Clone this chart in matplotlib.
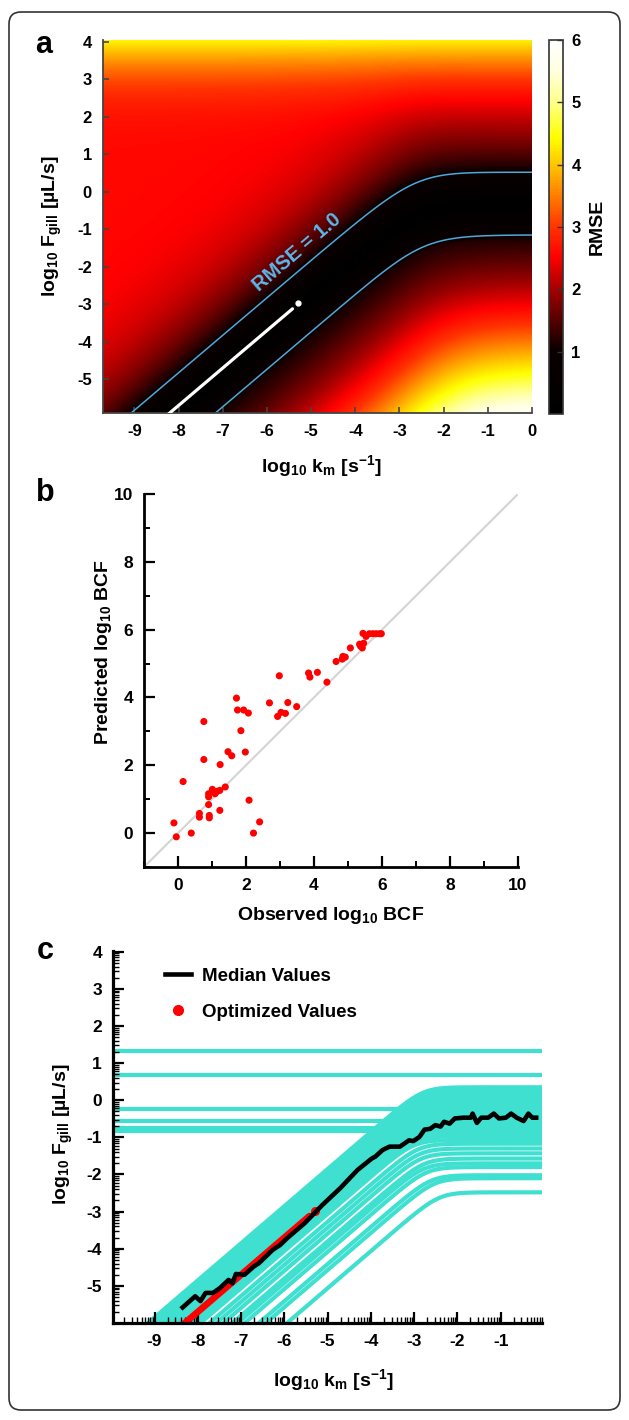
import numpy as np
import matplotlib
matplotlib.use('Agg')
import matplotlib.pyplot as plt
from matplotlib.colors import LinearSegmentedColormap
from matplotlib.patches import FancyBboxPatch
from matplotlib.transforms import IdentityTransform
from matplotlib.lines import Line2D

plt.rcParams['font.family'] = ['Liberation Sans', 'DejaVu Sans']
plt.rcParams['font.weight'] = 'bold'
plt.rcParams['mathtext.fontset'] = 'custom'
plt.rcParams['mathtext.rm'] = 'Liberation Sans:bold'
plt.rcParams['mathtext.it'] = 'Liberation Sans:bold'
plt.rcParams['mathtext.bf'] = 'Liberation Sans:bold'
plt.rcParams['axes.unicode_minus'] = False

# ---- panel a: RMSE surface (valley) ----
valley_offset = 2.2      # log F = log km + offset on the diagonal
valley_plateau = -0.33   # log F where the valley levels off
rmse_ticks = [1, 2, 3, 4, 5, 6]

# optimized (log km, log F) pairs, shown in panels a and c
opt_km = [-8.40, -8.25, -8.10, -7.95, -7.80, -7.65, -7.50, -7.35, -7.20, -7.05, -6.90,
          -6.75, -6.60, -6.45, -6.30, -6.15, -6.00, -5.85, -5.70, -5.55, -5.42, -5.30]
opt_f = [-6.10, -5.95, -5.80, -5.65, -5.50, -5.35, -5.20, -5.05, -4.90, -4.75, -4.60,
         -4.45, -4.30, -4.15, -4.00, -3.85, -3.70, -3.55, -3.40, -3.25, -3.12, -2.97]

# ---- panel b: observed vs predicted log10 BCF ----
obs = [-0.12, -0.05, 0.15, 0.39, 0.63, 0.63, 0.76, 0.76, 0.90, 0.90, 0.90, 0.92, 0.92,
       1.01, 1.09, 1.15, 1.23, 1.24, 1.23, 1.39, 1.47, 1.58, 1.72, 1.75, 1.85, 1.93,
       1.98, 2.07, 2.09, 2.22, 2.40, 2.69, 2.93, 2.98, 3.03, 3.16, 3.23, 3.49, 3.84,
       3.88, 4.10, 4.38, 4.65, 4.83, 4.85, 4.92, 5.07, 5.34, 5.37, 5.42, 5.44, 5.46,
       5.53, 5.63, 5.73, 5.83, 5.93, 5.98]
pred = [0.30, -0.11, 1.52, 0.00, 0.58, 0.47, 3.29, 2.17, 0.84, 1.16, 1.07, 0.52, 0.45,
        1.29, 1.16, 1.23, 1.26, 2.02, 0.67, 1.36, 2.40, 2.28, 3.98, 3.63, 3.02, 3.63,
        2.39, 3.54, 0.97, 0.00, 0.33, 3.84, 3.44, 4.64, 3.56, 3.53, 3.85, 3.73, 4.72,
        4.60, 4.74, 4.45, 5.06, 5.13, 5.21, 5.19, 5.46, 5.57, 5.51, 5.46, 5.89, 5.60,
        5.80, 5.88, 5.88, 5.88, 5.88, 5.88]

# ---- panel c: sampled model curves (diagonal offset, plateau) ----
curve_offset = [3.15, 3.10, 3.05, 3.00, 2.95, 2.90, 2.85, 2.80, 2.75, 2.70, 2.65, 2.60,
                2.55, 2.50, 2.45, 2.40, 2.35, 2.30, 2.25, 2.20, 2.15, 2.10, 2.05, 2.00,
                1.94, 1.73, 1.57, 1.41, 1.20, 1.08, 0.92, 0.59, 0.43, -0.06,
                20.0, 20.0, 20.0, 20.0, 20.0, 20.0]
curve_plateau = [0.35, 0.30, 0.25, 0.20, 0.15, 0.10, 0.05, 0.00, -0.05, -0.10, -0.15, -0.20,
                 -0.25, -0.30, -0.35, -0.40, -0.45, -0.52, -0.60, -0.66, -0.72, -0.80, -0.88, -0.97,
                 -1.07, -1.17, -1.30, -1.43, -1.57, -1.70, -1.80, -2.02, -2.10, -2.48,
                 1.33, 0.68, -0.23, -0.56, -0.76, -0.83]
knee_sharpness = 2.0

med_km = [-8.35, -8.06, -7.94, -7.82, -7.65, -7.49, -7.29, -7.20, -7.12, -6.92, -6.71, -6.59,
          -6.43, -6.27, -6.10, -5.94, -5.53, -5.12, -4.71, -4.31, -3.98, -3.90, -3.73, -3.57,
          -3.45, -3.33, -3.12, -3.02, -2.88, -2.76, -2.63, -2.51, -2.39, -2.31, -2.18, -2.06,
          -1.86, -1.69, -1.65, -1.55, -1.45, -1.29, -1.16, -1.04, -0.88, -0.76, -0.63, -0.47,
          -0.36, -0.27, -0.18]
med_f = [-5.58, -5.28, -5.41, -5.19, -5.19, -5.06, -4.84, -4.93, -4.68, -4.70, -4.48, -4.39,
         -4.21, -4.03, -3.90, -3.72, -3.31, -2.82, -2.37, -1.88, -1.57, -1.52, -1.34, -1.25,
         -1.25, -1.25, -1.08, -1.10, -0.99, -0.79, -0.77, -0.67, -0.71, -0.58, -0.63, -0.49,
         -0.47, -0.47, -0.36, -0.61, -0.47, -0.47, -0.36, -0.49, -0.47, -0.36, -0.47, -0.56,
         -0.36, -0.47, -0.47]

W, H = 629, 1420
fig = plt.figure(figsize=(W / 100, H / 100), dpi=100)


def box(x0, y0, x1, y1):
    # pixel box (top-left origin) -> figure fraction rect
    return [x0 / W, 1 - y1 / H, (x1 - x0) / W, (y1 - y0) / H]


def ftext(x, y, s, **kw):
    fig.text(x / W, 1 - y / H, s, ha='center', va='center', fontweight='bold', **kw)


def sig(v):
    return 1 / (1 + np.exp(-v))


frame = FancyBboxPatch((9, 10), 611, 1398, boxstyle='round,pad=0,rounding_size=12',
                       transform=IdentityTransform(), fill=False, lw=1.2, edgecolor='#333333')
fig.add_artist(frame)

# ================= panel a =================
ax = fig.add_axes(box(103, 40, 532, 413))
km = np.linspace(-9.71, 0, 500)
fg = np.linspace(-5.9, 4.05, 500)
X, Y = np.meshgrid(km, fg)
yv = -np.log10(10 ** -(X + valley_offset) + 10 ** -valley_plateau)
d = Y - yv
s = sig((X + 2.5) / 0.6)
up = np.sqrt((2.6 * np.tanh(d / (2.4 - 0.3 * s))) ** 2 + (0.25 * np.clip(Y - 0.3, 0, None) ** 2) ** 2)
t = np.clip(np.abs(d) - 1, 0, None)
g = 0.7 + 0.3 * sig((X + 2) / 0.6)
down = (1.07 + 0.15 * s) * np.minimum(np.abs(d), 1) + g * (0.617 * t + 0.089 * t ** 2)
rmse = np.where(d >= 0, up, down)

cmap = LinearSegmentedColormap.from_list('rmse', [
    (0.0, '#000000'), (0.17, '#0a0000'), (0.33, '#a00000'), (0.42, '#ff0000'),
    (0.5, '#ff3300'), (0.6, '#ff8c00'), (0.67, '#ffc800'), (0.74, '#ffff00'),
    (0.84, '#ffff90'), (0.92, '#ffffe0'), (1.0, '#ffffff')])
im = ax.imshow(rmse, extent=[km[0], km[-1], fg[0], fg[-1]], origin='lower', aspect='auto',
               cmap=cmap, vmin=0, vmax=6, interpolation='bilinear')
ax.contour(km, fg, rmse, levels=[1.0], colors='#4ea8da', linewidths=1.1)
ax.plot(opt_km[:-1], opt_f[:-1], color='white', lw=2.3, solid_capstyle='round', zorder=4)
ax.plot(opt_km[-1:], opt_f[-1:], 'o', color='white', ms=3.5, zorder=4)
ax.text(-5.32, -1.62, 'RMSE = 1.0', color='#5cb8ec', fontsize=14.5, fontweight='bold',
        rotation=40.5, rotation_mode='anchor', ha='center', va='center')
ax.set_xlim(km[0], km[-1])
ax.set_ylim(fg[0], fg[-1])
ax.set_xticks(range(-9, 1))
ax.set_yticks(range(-5, 5))
for sp in ['top', 'right']:
    ax.spines[sp].set_visible(False)
for sp in ['left', 'bottom']:
    ax.spines[sp].set_color('#444444')
    ax.spines[sp].set_linewidth(1.3)
ax.tick_params(direction='in', length=4, width=1.2, color='#444444', labelsize=12, pad=8)

cax = fig.add_axes(box(549, 40, 563, 414))
cb = fig.colorbar(im, cax=cax, ticks=rmse_ticks)
cb.outline.set_edgecolor('#333333')
cb.outline.set_linewidth(1.2)
cax.tick_params(direction='in', length=4, width=1.0, color='#333333', labelsize=12, pad=6)

ftext(44, 45, 'a', fontsize=22)
ftext(321, 466, r'log$_{\mathrm{10}}$ k$_{\mathrm{m}}$ [s$^{\mathrm{-1}}$]', fontsize=14)
ftext(52, 226, r'log$_{\mathrm{10}}$ F$_{\mathrm{gill}}$ [µL/s]', fontsize=14, rotation=90)
ftext(597, 227, 'RMSE', fontsize=14, rotation=90)

# ================= panel b =================
bx = fig.add_axes(box(144, 494, 518, 867))
bx.plot([-1, 10], [-1, 10], color='#d4d4d4', lw=1.5, zorder=1)
bx.scatter(obs, pred, s=26, color='#ff0000', edgecolors='none', zorder=3)
bx.set_xlim(-1, 10)
bx.set_ylim(-1, 10)
bx.set_xticks(range(0, 11, 2))
bx.set_yticks(range(0, 11, 2))
bx.set_xticks(range(-1, 11, 2), minor=True)
bx.set_yticks(range(-1, 11, 2), minor=True)
for sp in ['top', 'right']:
    bx.spines[sp].set_visible(False)
for sp in ['left', 'bottom']:
    bx.spines[sp].set_linewidth(2)
bx.tick_params(which='major', direction='in', length=8, width=1.6, labelsize=12.5, pad=8)
bx.tick_params(which='minor', direction='in', length=4.5, width=1.4)

ftext(45, 493, 'b', fontsize=22)
ftext(331, 915, r'Observed log$_{\mathrm{10}}$ BCF', fontsize=14)
ftext(103, 652, r'Predicted log$_{\mathrm{10}}$ BCF', fontsize=14, rotation=90)

# ================= panel c =================
cx = fig.add_axes(box(113, 951, 542, 1323))
xs = np.linspace(-10, 0, 400)
n = knee_sharpness
for c, p in zip(curve_offset, curve_plateau):
    cy = -np.log10(10 ** (-n * (xs + c)) + 10 ** (-n * p)) / n
    cx.plot(xs, cy, color='#40e0d0', lw=3, zorder=1)
cx.plot(opt_km[:-1], opt_f[:-1], color='#ff0000', lw=4.8, solid_capstyle='round', zorder=2)
cx.plot(opt_km[-1:], opt_f[-1:], 'o', color='#ff0000', ms=5.5, zorder=2)
cx.plot(med_km, med_f, color='black', lw=3.3, zorder=3)
cx.set_xlim(-9.96, -0.19)
cx.set_ylim(-6.0, 4.02)
cx.set_xticks(range(-9, 0))
cx.set_yticks(range(-5, 5))
cx.set_xticks([k + np.log10(m) for k in range(-10, 0) for m in range(2, 10)], minor=True)
cx.set_yticks([k + np.log10(m) for k in range(-6, 4) for m in range(2, 10)], minor=True)
for sp in ['top', 'right']:
    cx.spines[sp].set_visible(False)
for sp in ['left', 'bottom']:
    cx.spines[sp].set_linewidth(2.3)
cx.tick_params(which='major', direction='in', length=8, width=1.6, labelsize=12.5, pad=8)
cx.tick_params(which='minor', direction='in', length=4.5, width=1.0)
handles = [Line2D([], [], color='black', lw=3.3),
           Line2D([], [], color='#ff0000', marker='o', ms=7, lw=0)]
cx.legend(handles, ['Median Values', 'Optimized Values'], loc='upper left',
          bbox_to_anchor=(0.103, 0.975), borderaxespad=0, frameon=False,
          prop={'weight': 'bold', 'size': 13.5}, handlelength=1.4, handletextpad=0.6,
          labelspacing=1.0)

ftext(45, 951, 'c', fontsize=22)
ftext(333, 1380, r'log$_{\mathrm{10}}$ k$_{\mathrm{m}}$ [s$^{\mathrm{-1}}$]', fontsize=14)
ftext(63, 1134, r'log$_{\mathrm{10}}$ F$_{\mathrm{gill}}$ [µL/s]', fontsize=14, rotation=90)

fig.savefig('out.png', dpi=100)
